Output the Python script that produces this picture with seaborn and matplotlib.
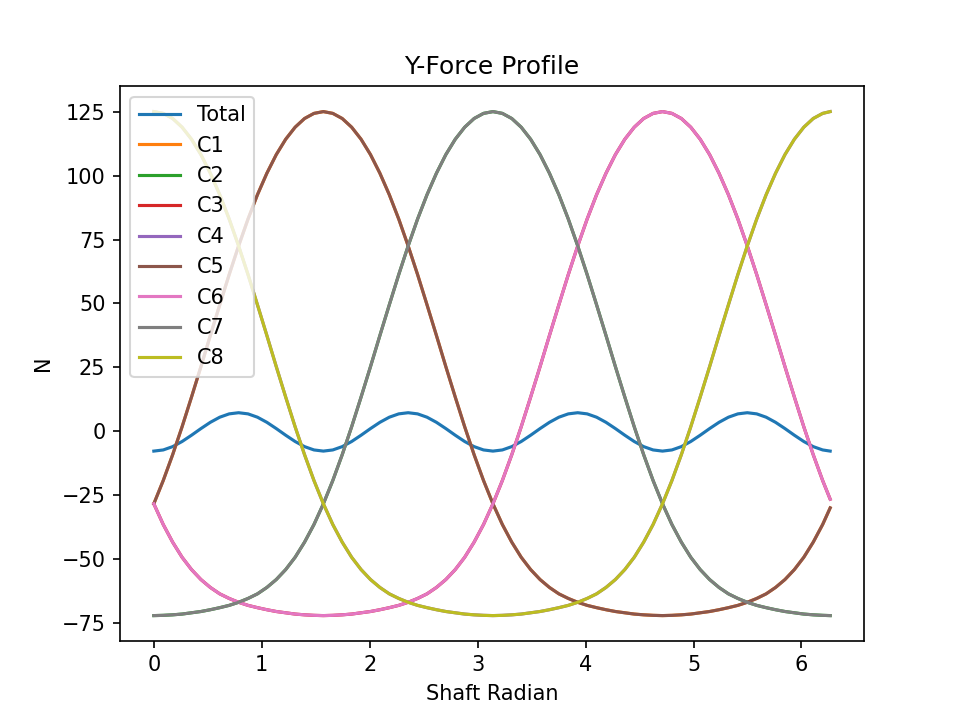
import numpy as np
import matplotlib
matplotlib.use('Agg')
import matplotlib.pyplot as plt
import seaborn as sns

# shaft angle in degrees (5 deg steps, last sample at 359 deg)
angle_deg = list(range(0, 360, 5)) + [359]

# Y force of each contact (N)
c8 = [125.0, 124.3, 122.3, 118.9, 114.2, 108.2,
      100.9, 92.5, 83.0, 72.5, 61.3, 49.5,
      37.5, 25.3, 13.4, 1.8, -9.1, -19.2,
      -28.3, -36.4, -43.3, -49.2, -54.0, -57.9,
      -61.0, -63.5, -65.3, -66.8, -68.0, -68.9,
      -69.7, -70.4, -70.9, -71.4, -71.7, -71.9,
      -72.0, -71.9, -71.7, -71.4, -70.9, -70.4,
      -69.7, -68.9, -68.0, -66.8, -65.3, -63.5,
      -61.0, -57.9, -54.0, -49.2, -43.3, -36.4,
      -28.3, -19.2, -9.1, 1.8, 13.4, 25.3,
      37.5, 49.5, 61.3, 72.5, 83.0, 92.5,
      100.9, 108.2, 114.2, 118.9, 122.3, 124.3,
      125.0]

c5 = [-28.3, -19.2, -9.1, 1.8, 13.4, 25.3,
      37.5, 49.5, 61.3, 72.5, 83.0, 92.5,
      100.9, 108.2, 114.2, 118.9, 122.3, 124.3,
      125.0, 124.3, 122.3, 118.9, 114.2, 108.2,
      100.9, 92.5, 83.0, 72.5, 61.3, 49.5,
      37.5, 25.3, 13.4, 1.8, -9.1, -19.2,
      -28.3, -36.4, -43.3, -49.2, -54.0, -57.9,
      -61.0, -63.5, -65.3, -66.8, -68.0, -68.9,
      -69.7, -70.4, -70.9, -71.4, -71.7, -71.9,
      -72.0, -71.9, -71.7, -71.4, -70.9, -70.4,
      -69.7, -68.9, -68.0, -66.8, -65.3, -63.5,
      -61.0, -57.9, -54.0, -49.2, -43.3, -36.4,
      -29.9]

c7 = [-72.0, -71.9, -71.7, -71.4, -70.9, -70.4,
      -69.7, -68.9, -68.0, -66.8, -65.3, -63.5,
      -61.0, -57.9, -54.0, -49.2, -43.3, -36.4,
      -28.3, -19.2, -9.1, 1.8, 13.4, 25.3,
      37.5, 49.5, 61.3, 72.5, 83.0, 92.5,
      100.9, 108.2, 114.2, 118.9, 122.3, 124.3,
      125.0, 124.3, 122.3, 118.9, 114.2, 108.2,
      100.9, 92.5, 83.0, 72.5, 61.3, 49.5,
      37.5, 25.3, 13.4, 1.8, -9.1, -19.2,
      -28.3, -36.4, -43.3, -49.2, -54.0, -57.9,
      -61.0, -63.5, -65.3, -66.8, -68.0, -68.9,
      -69.7, -70.4, -70.9, -71.4, -71.7, -71.9,
      -72.0]

c6 = [-28.3, -36.4, -43.3, -49.2, -54.0, -57.9,
      -61.0, -63.5, -65.3, -66.8, -68.0, -68.9,
      -69.7, -70.4, -70.9, -71.4, -71.7, -71.9,
      -72.0, -71.9, -71.7, -71.4, -70.9, -70.4,
      -69.7, -68.9, -68.0, -66.8, -65.3, -63.5,
      -61.0, -57.9, -54.0, -49.2, -43.3, -36.4,
      -28.3, -19.2, -9.1, 1.8, 13.4, 25.3,
      37.5, 49.5, 61.3, 72.5, 83.0, 92.5,
      100.9, 108.2, 114.2, 118.9, 122.3, 124.3,
      125.0, 124.3, 122.3, 118.9, 114.2, 108.2,
      100.9, 92.5, 83.0, 72.5, 61.3, 49.5,
      37.5, 25.3, 13.4, 1.8, -9.1, -19.2,
      -26.5]

# C1..C4 sit exactly under C5, C7, C6, C8
c1 = list(c5)
c2 = list(c7)
c3 = list(c6)
c4 = list(c8)

total = [-7.7, -7.25, -5.95, -3.95, -1.5, 1.1,
         3.55, 5.55, 6.85, 7.3, 6.85, 5.55,
         3.55, 1.1, -1.5, -3.95, -5.95, -7.25,
         -7.7, -7.25, -5.95, -3.95, -1.5, 1.1,
         3.55, 5.55, 6.85, 7.3, 6.85, 5.55,
         3.55, 1.1, -1.5, -3.95, -5.95, -7.25,
         -7.7, -7.25, -5.95, -3.95, -1.5, 1.1,
         3.55, 5.55, 6.85, 7.3, 6.85, 5.55,
         3.55, 1.1, -1.5, -3.95, -5.95, -7.25,
         -7.7, -7.25, -5.95, -3.95, -1.5, 1.1,
         3.55, 5.55, 6.85, 7.3, 6.85, 5.55,
         3.55, 1.1, -1.5, -3.95, -5.95, -7.25,
         -7.7]

labels = ['Total', 'C1', 'C2', 'C3', 'C4', 'C5', 'C6', 'C7', 'C8']
series = [total, c1, c2, c3, c4, c5, c6, c7, c8]

radian = np.deg2rad(angle_deg)
colors = sns.color_palette('tab10')

fig, ax = plt.subplots(figsize=(6.4, 4.8), dpi=150)
for i, (lab, vals) in enumerate(zip(labels, series)):
    sns.lineplot(x=radian, y=vals, label=lab, color=colors[i], linewidth=1.5, ax=ax)

ax.set_title('Y-Force Profile')
ax.set_xlabel('Shaft Radian')
ax.set_ylabel('N')
ax.legend(loc='upper left')
plt.savefig('out.png', dpi=150)
